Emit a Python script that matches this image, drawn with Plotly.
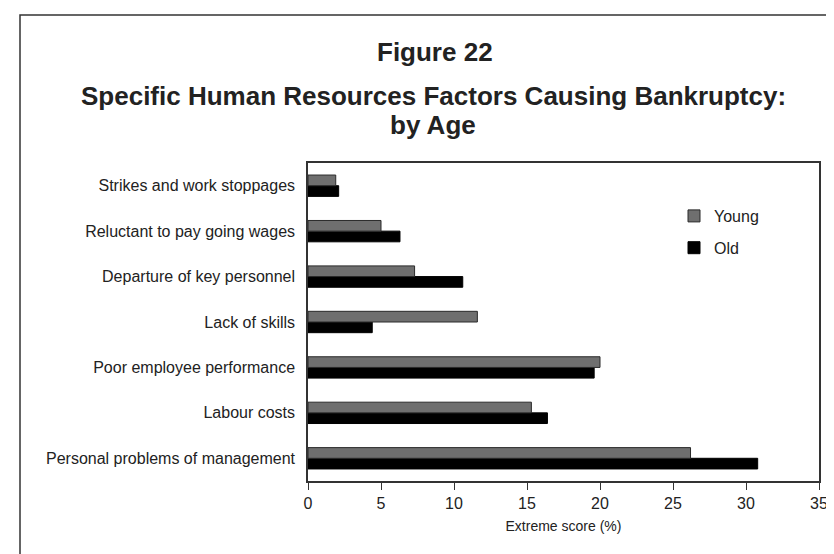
import plotly.graph_objects as go

categories = [
    "Personal problems of management",
    "Labour costs",
    "Poor employee performance",
    "Lack of skills",
    "Departure of key personnel",
    "Reluctant to pay going wages",
    "Strikes and work stoppages",
]
young = [26.2, 15.3, 20.0, 11.6, 7.3, 5.0, 1.9]
old = [30.8, 16.4, 19.6, 4.4, 10.6, 6.3, 2.1]
x_ticks = [0, 5, 10, 15, 20, 25, 30, 35]

W, H = 834, 554
L, R, T, B = 300, 23, 155, 81
PH = H - T - B
PW = W - L - R

def py(p):
    return (H - B - p) / PH

def px(p):
    return (p - L) / PW

FONT = "Liberation Sans, Arial, sans-serif"

fig = go.Figure()
fig.add_trace(go.Bar(
    y=categories, x=old, orientation="h", name="Old",
    marker=dict(color="#000000", line=dict(color="#000000", width=1)),
    legendrank=2, legendgroup="b",
))
fig.add_trace(go.Bar(
    y=categories, x=young, orientation="h", name="Young",
    marker=dict(color="#6f6f6f", line=dict(color="#2a2a2a", width=1)),
    legendrank=1, legendgroup="a",
))

fig.update_layout(
    width=W, height=H,
    margin=dict(l=L, r=R, t=T, b=B),
    paper_bgcolor="white", plot_bgcolor="white",
    barmode="group", bargap=0.53, bargroupgap=0,
    font=dict(family=FONT, size=16, color="#222222"),
    showlegend=True,
    legend=dict(
        x=px(666), y=py(191), xanchor="left", yanchor="top",
        font=dict(size=16, color="#222222"),
        tracegroupgap=8, bgcolor="rgba(0,0,0,0)",
    ),
    xaxis=dict(
        range=[0, 35], tickvals=x_ticks, ticks="outside", ticklen=7,
        tickcolor="#333333", showline=True, linecolor="#333333", linewidth=1.5,
        mirror=True, showgrid=False, zeroline=False,
        tickfont=dict(size=16, color="#222222"),
        title=dict(text="Extreme score (%)", font=dict(size=14, color="#222222"), standoff=10),
    ),
    yaxis=dict(
        showline=True, linecolor="#333333", linewidth=1.5, mirror=True,
        showgrid=False, zeroline=False, ticks="",
        ticklabelstandoff=8,
        tickfont=dict(size=16, color="#222222"),
    ),
)

fig.add_annotation(text="<b>Figure 22</b>", xref="paper", yref="paper",
                   x=px(427), y=py(44), xanchor="center", yanchor="middle",
                   showarrow=False, font=dict(size=26, color="#222222", family=FONT))
fig.add_annotation(text="<b>Specific Human Resources Factors Causing Bankruptcy:</b>",
                   xref="paper", yref="paper",
                   x=px(425), y=py(88), xanchor="center", yanchor="middle",
                   showarrow=False, font=dict(size=26, color="#222222", family=FONT))
fig.add_annotation(text="<b>by Age</b>", xref="paper", yref="paper",
                   x=px(425), y=py(117), xanchor="center", yanchor="middle",
                   showarrow=False, font=dict(size=26, color="#222222", family=FONT))

fig.add_shape(type="rect", xref="paper", yref="paper",
              x0=px(12), x1=px(850), y0=py(570), y1=py(7),
              line=dict(color="#333333", width=1.5), fillcolor="rgba(0,0,0,0)", layer="below")

fig.write_html("out.html")
